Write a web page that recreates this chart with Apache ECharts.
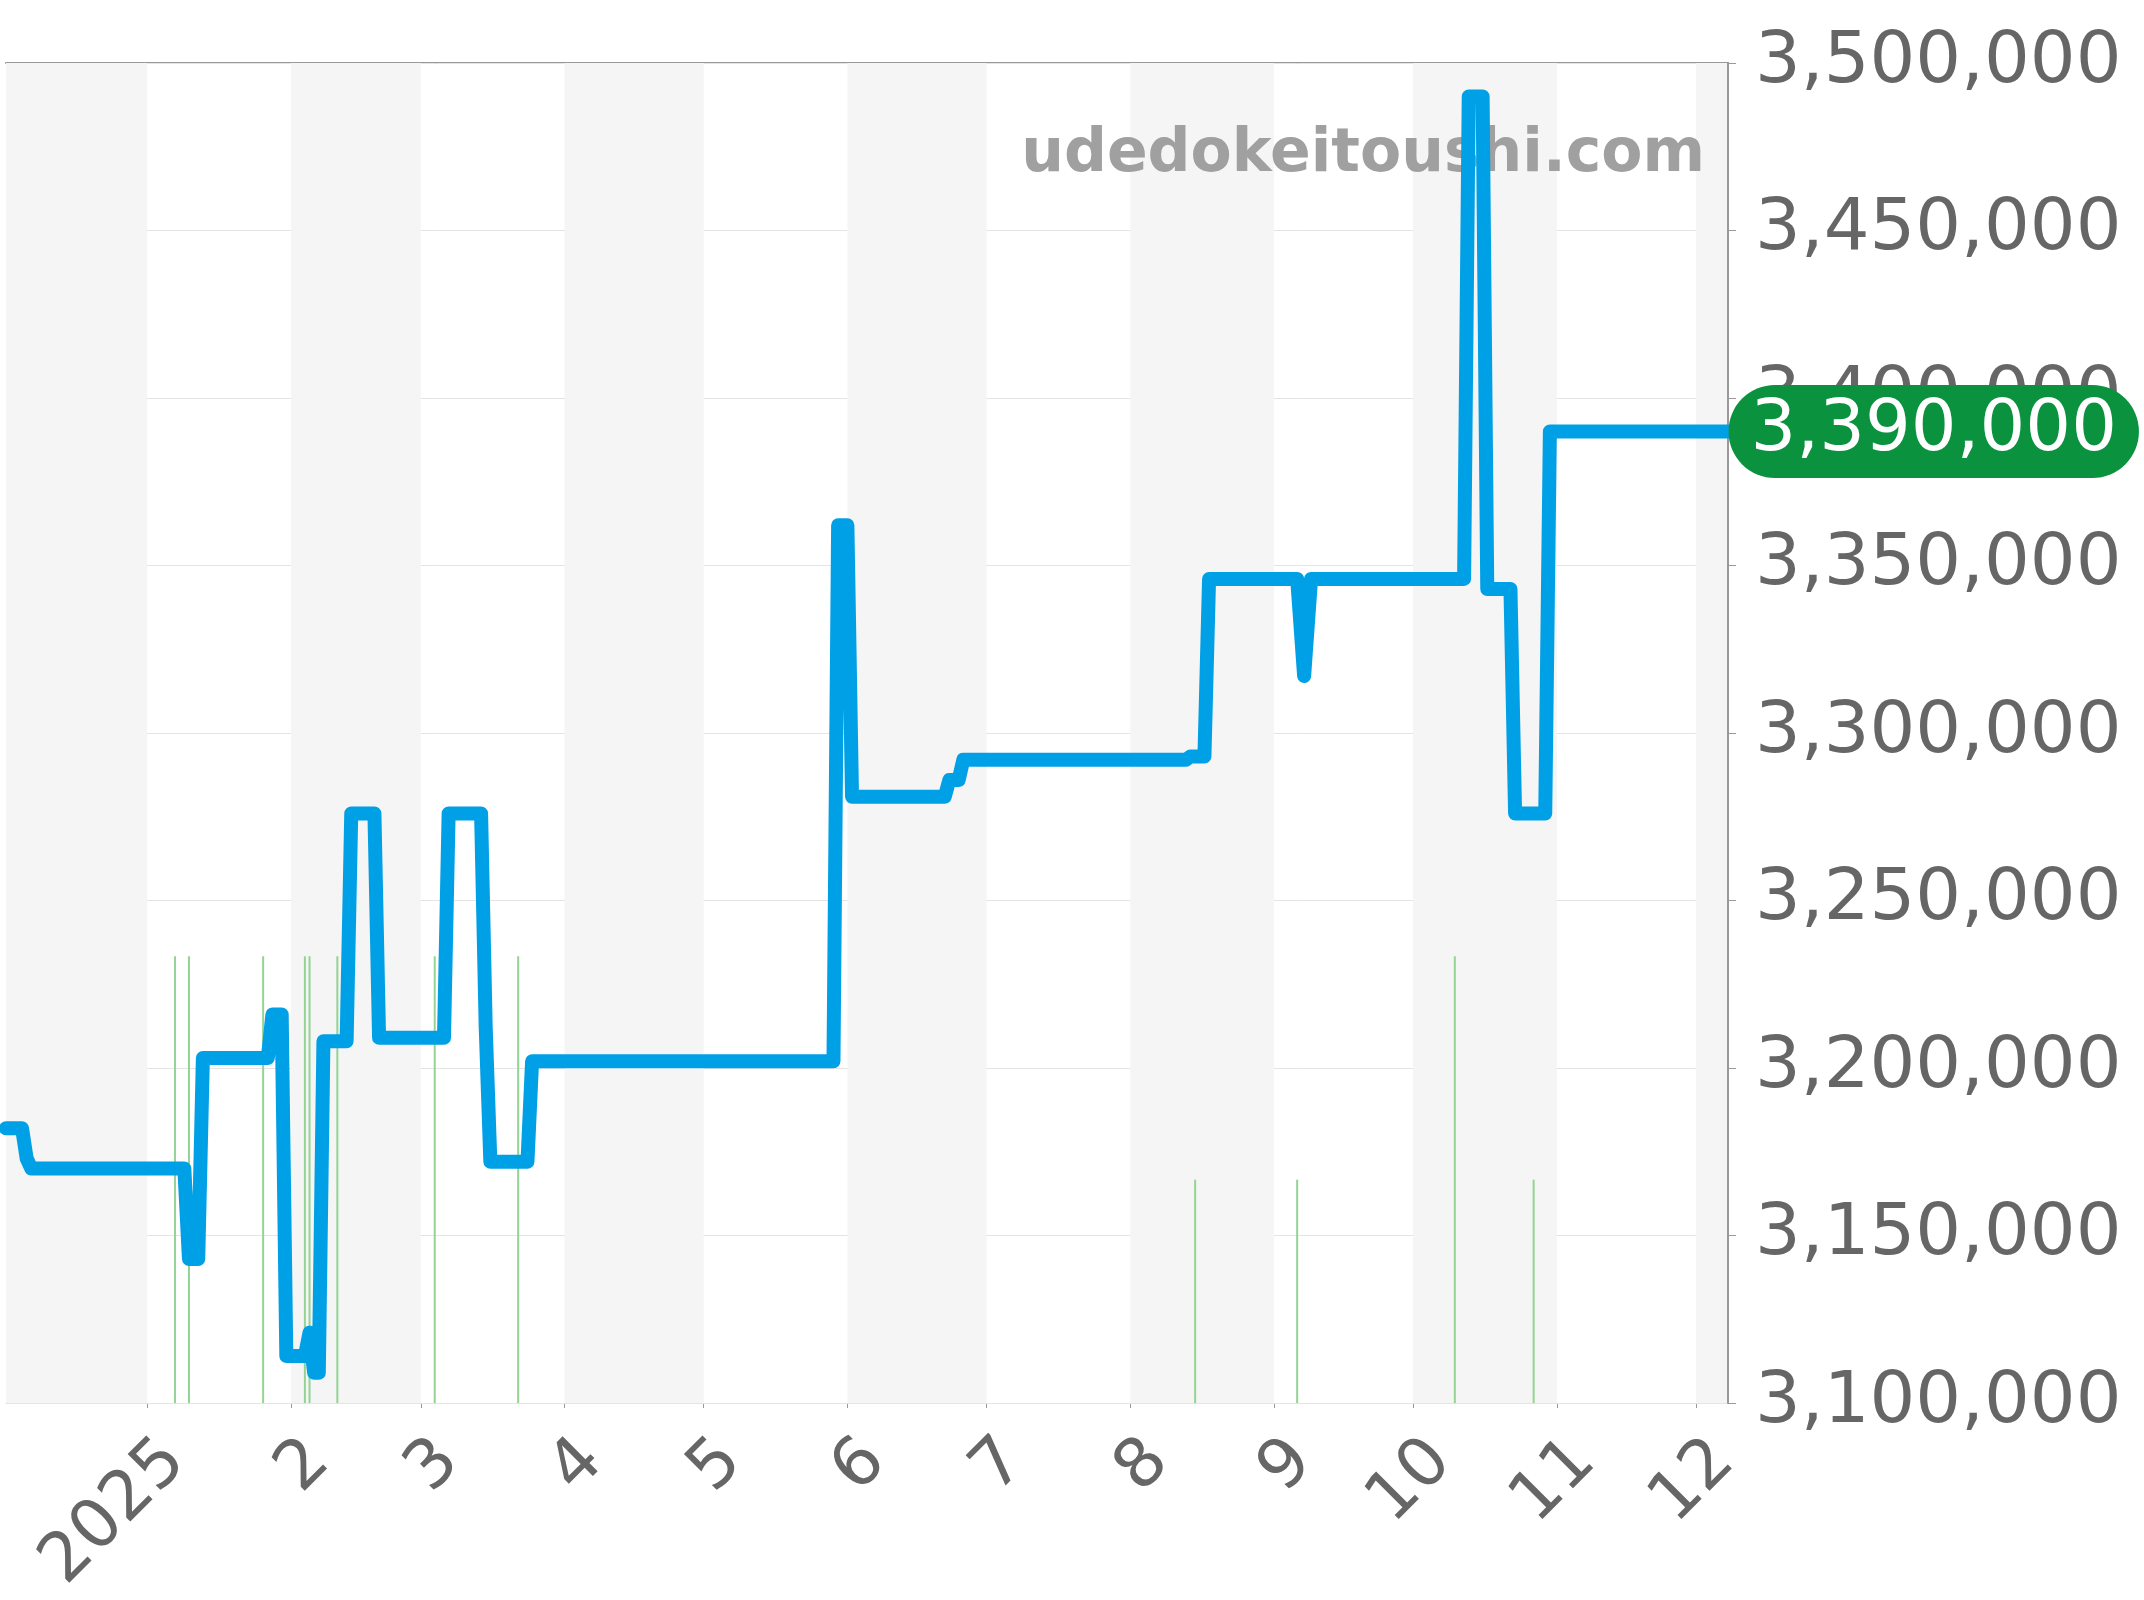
<!DOCTYPE html>
<html>
<head>
<meta charset="utf-8">
<script src="https://cdn.jsdelivr.net/npm/echarts@6/dist/echarts.min.js"></script>
<style>
html,body{margin:0;padding:0;background:#ffffff;}
#chart{width:2144px;height:1600px;}
</style>
</head>
<body>
<div id="chart"></div>
<script>
// ---- data ----
const axisRange = ['2024-12-01 13:00', '2025-12-07 22:00'];

const priceDates = [
  '2024-12-01 13:00', '2024-12-05', '2024-12-06', '2024-12-07',
  '2025-01-09', '2025-01-10', '2025-01-12', '2025-01-13',
  '2025-01-27', '2025-01-28', '2025-01-30', '2025-01-31',
  '2025-02-04', '2025-02-05', '2025-02-06', '2025-02-07', '2025-02-08',
  '2025-02-13', '2025-02-14', '2025-02-19', '2025-02-20',
  '2025-03-06', '2025-03-07', '2025-03-14', '2025-03-15', '2025-03-16',
  '2025-03-24', '2025-03-25',
  '2025-05-29', '2025-05-30', '2025-06-01', '2025-06-02',
  '2025-06-22', '2025-06-23', '2025-06-25', '2025-06-26',
  '2025-08-13', '2025-08-14', '2025-08-17', '2025-08-18',
  '2025-09-06', '2025-09-07 12:00', '2025-09-09',
  '2025-10-12', '2025-10-13', '2025-10-16', '2025-10-17',
  '2025-10-22', '2025-10-23', '2025-10-29 12:00', '2025-10-30 12:00',
  '2025-12-07 22:00'
];
const priceValues = [
  3182000, 3182000, 3173000, 3170000,
  3170000, 3143000, 3143000, 3203000,
  3203000, 3216000, 3216000, 3114000,
  3114000, 3121000, 3109000, 3109000, 3208000,
  3208000, 3276000, 3276000, 3209000,
  3209000, 3276000, 3276000, 3212000, 3172000,
  3172000, 3202000,
  3202000, 3362000, 3362000, 3281000,
  3281000, 3286000, 3286000, 3292000,
  3292000, 3293000, 3293000, 3346000,
  3346000, 3317000, 3346000,
  3346000, 3490000, 3490000, 3343000,
  3343000, 3276000, 3276000, 3390000,
  3390000
];

const volumeDates = [
  '2025-01-07', '2025-01-10', '2025-01-26', '2025-02-04', '2025-02-05', '2025-02-11',
  '2025-03-04', '2025-03-22', '2025-08-15', '2025-09-06', '2025-10-10', '2025-10-27'
];
const volumeValues = [2, 2, 2, 2, 2, 2, 2, 2, 1, 1, 2, 1];

const monthTicks = [
  '2025-01-01', '2025-02-01', '2025-03-01', '2025-04-01', '2025-05-01', '2025-06-01',
  '2025-07-01', '2025-08-01', '2025-09-01', '2025-10-01', '2025-11-01', '2025-12-01'
];
const monthLabels = ['2025', '2', '3', '4', '5', '6', '7', '8', '9', '10', '11', '12'];

const shadedStarts = ['2024-12-01 13:00', '2025-02-01', '2025-04-01', '2025-06-01', '2025-08-01', '2025-10-01', '2025-12-01'];
const shadedEnds   = ['2025-01-01', '2025-03-01', '2025-05-01', '2025-07-01', '2025-09-01', '2025-11-01', '2025-12-07 22:00'];

const yMin = 3100000, yMax = 3500000, yStep = 50000;
const volumeAxisMax = 6;
const latestPrice = 3390000;
const watermark = 'udedokeitoushi.com';

// ---- helpers ----
function ts(s) {
  const m = s.match(/(\d+)-(\d+)-(\d+)(?:[ T](\d+):(\d+))?/);
  return new Date(+m[1], +m[2] - 1, +m[3], +(m[4] || 0), +(m[5] || 0)).getTime();
}
const fmt = v => Math.round(v).toLocaleString('en-US');
const FONT = '"DejaVu Sans", "Noto Sans", sans-serif';

const tickTimes = monthTicks.map(ts);
const priceData = priceDates.map((d, i) => [ts(d), priceValues[i]]);
const volumeData = volumeDates.map((d, i) => [ts(d), volumeValues[i]]);
const bands = shadedStarts.map((s, i) => [{ xAxis: ts(s) }, { xAxis: ts(shadedEnds[i]) }]);
const xMin = ts(axisRange[0]), xMax = ts(axisRange[1]);

const chart = echarts.init(document.getElementById('chart'), null, { renderer: 'canvas' });
chart.setOption({
  animation: false,
  backgroundColor: '#ffffff',
  grid: { left: 6, right: 416, top: 63, bottom: 197, containLabel: false, outerBoundsMode: 'none' },
  graphic: [{
    type: 'text', z: 2, x: 1705, y: 155,
    style: { text: watermark, font: 'bold 60px ' + FONT, fill: '#a0a0a0', align: 'right', verticalAlign: 'middle' }
  }],
  xAxis: [{
    type: 'value', min: xMin, max: xMax, position: 'bottom', scale: true,
    axisLine: { show: true, onZero: false, lineStyle: { color: '#b2dcb2', width: 1, type: 'dotted' } },
    axisTick: { show: true, customValues: tickTimes, length: 5, lineStyle: { color: '#999999', width: 1 } },
    axisLabel: {
      customValues: tickTimes, rotate: 45, margin: 20, color: '#666666', fontSize: 68, fontFamily: FONT,
      verticalAlign: 'top', lineHeight: 80,
      showMinLabel: true, showMaxLabel: true,
      formatter: function (v) {
        let best = -1, bd = Infinity;
        tickTimes.forEach((t, i) => { const d = Math.abs(t - v); if (d < bd) { bd = d; best = i; } });
        return bd < 3600000 ? monthLabels[best] : '';
      }
    },
    splitLine: { show: false }, splitArea: { show: false }
  }, {
    type: 'value', min: xMin, max: xMax, position: 'top', scale: true,
    axisLine: { show: true, onZero: false, lineStyle: { color: '#999999', width: 2 } },
    axisTick: { show: false }, axisLabel: { show: false }, splitLine: { show: false }
  }],
  yAxis: [{
    type: 'value', position: 'right', min: yMin, max: yMax, interval: yStep, z: 1,
    axisLine: { show: true, onZero: false, lineStyle: { color: '#999999', width: 2 } },
    axisTick: { show: true, length: 8, lineStyle: { color: '#999999', width: 1 } },
    axisLabel: { margin: 27, color: '#666666', fontSize: 72, fontFamily: FONT, formatter: fmt, padding: [11, 0, 0, 0] },
    splitLine: { show: true, lineStyle: { color: '#e4e4e4', width: 1 } }
  }, {
    type: 'value', min: 0, max: volumeAxisMax, show: false, splitLine: { show: false }
  }],
  series: [{
    type: 'line', name: 'bands', data: [], z: 0, silent: true,
    markArea: { silent: true, itemStyle: { color: '#f5f5f5' }, data: bands }
  }, {
    type: 'bar', name: 'volume', yAxisIndex: 1, data: volumeData, barWidth: 2, z: 2,
    itemStyle: { color: '#93d393' }, silent: true
  }, {
    type: 'line', name: 'price', data: priceData, showSymbol: false, z: 3, silent: true,
    lineStyle: { color: '#00a0e6', width: 14, cap: 'round', join: 'round' },
    markPoint: {
      silent: true, symbol: 'circle', symbolSize: 1, itemStyle: { color: 'rgba(0,0,0,0)' },
      data: [{ coord: [xMax, latestPrice], value: latestPrice }],
      label: {
        show: true, position: 'right', distance: 0, formatter: p => fmt(p.value),
        color: '#ffffff', fontSize: 72, fontFamily: FONT, lineHeight: 70,
        backgroundColor: '#0b923e', borderRadius: 48, padding: [17, 22, 6, 22]
      }
    }
  }]
});
</script>
</body>
</html>
